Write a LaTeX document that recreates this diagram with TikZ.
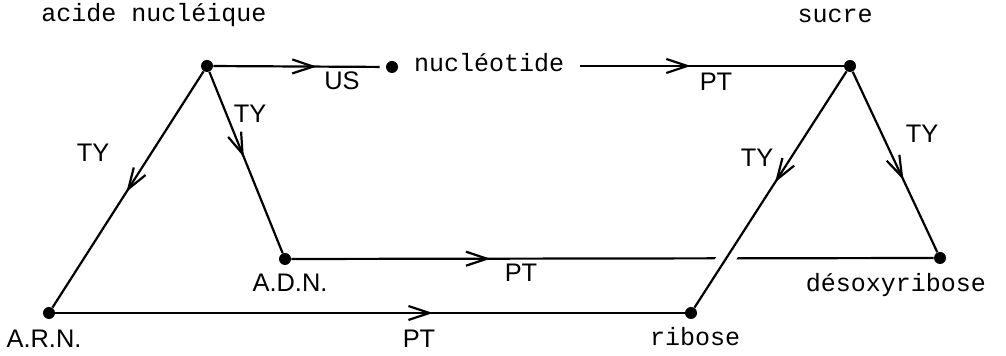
\documentclass[tikz,border=0pt]{standalone}
\usepackage{fontspec}
\setmainfont{Liberation Sans}
\setsansfont{Liberation Sans}
\setmonofont{Liberation Mono}
\usetikzlibrary{arrows.meta,decorations.markings}

\begin{document}
\begin{tikzpicture}[x=0.5pt,y=-0.5pt,
  dot/.style={circle,fill,inner sep=0pt,minimum size=6pt},
  conn/.style={line width=1.1pt},
  arrowat/.style={postaction={decorate},
    decoration={markings,
      mark=at position #1 with {\arrow{Straight Barb[length=10.5pt,width=7pt]}}}},
  term/.style={font=\fontsize{12.5}{15}\selectfont\ttfamily, inner sep=0pt, anchor=base},
  lab/.style={font=\fontsize{12.7}{15}\selectfont\sffamily, inner sep=0pt, anchor=base},
]
\useasboundingbox (0,0) rectangle (1006,356);

% points of the graph
\node[dot] (an)  at (207,66)  {};
\node[dot] (nt)  at (392,67)  {};
\node[dot] (su)  at (850,66)  {};
\node[dot] (adn) at (285,259) {};
\node[dot] (arn) at (49,313)  {};
\node[dot] (rib) at (691,313) {};
\node[dot] (des) at (940,258) {};

% names of the points
\node[term] (tan)  at (154,22)  {acide nucléique};
\node[term, anchor=base west, outer xsep=8pt] (tnt) at (398,72) {nucléotide};
\node[term] (tsu)  at (835,23)  {sucre};
\node[lab]  (tadn) at (290,292) {A.D.N.};
\node[lab]  (tarn) at (44,348)  {A.R.N.};
\node[term] (trib) at (695,346) {ribose};
\node[term] (tdes) at (896,292) {désoxyribose};

% relations
\draw[conn, arrowat=0.60, shorten >=3pt] (an) -- (nt);
\draw[conn, arrowat=0.42] (tnt.east |- su) -- (su);
\draw[conn, arrowat=0.51] (an) -- (arn);
\draw[conn, arrowat=0.47] (an) -- (adn);
\draw[conn, arrowat=0.31] (adn) -- (des);
\draw[conn, arrowat=0.60] (arn) -- (rib);
\draw[conn, arrowat=0.60] (su) -- (des);
\draw[conn, arrowat=0.47,
      preaction={draw=white, line width=9pt, shorten <=100pt, shorten >=22pt}]
      (su) -- (rib);

% relation names
\node[lab] (lus)  at (342,90)  {US};
\node[lab] (lpt1) at (716,91)  {PT};
\node[lab] (lty1) at (93,162)  {TY};
\node[lab] (lty2) at (250,123) {TY};
\node[lab] (lty3) at (757,167) {TY};
\node[lab] (lty4) at (922,143) {TY};
\node[lab] (lpt2) at (521,282) {PT};
\node[lab] (lpt3) at (419,348) {PT};
\end{tikzpicture}
\end{document}
